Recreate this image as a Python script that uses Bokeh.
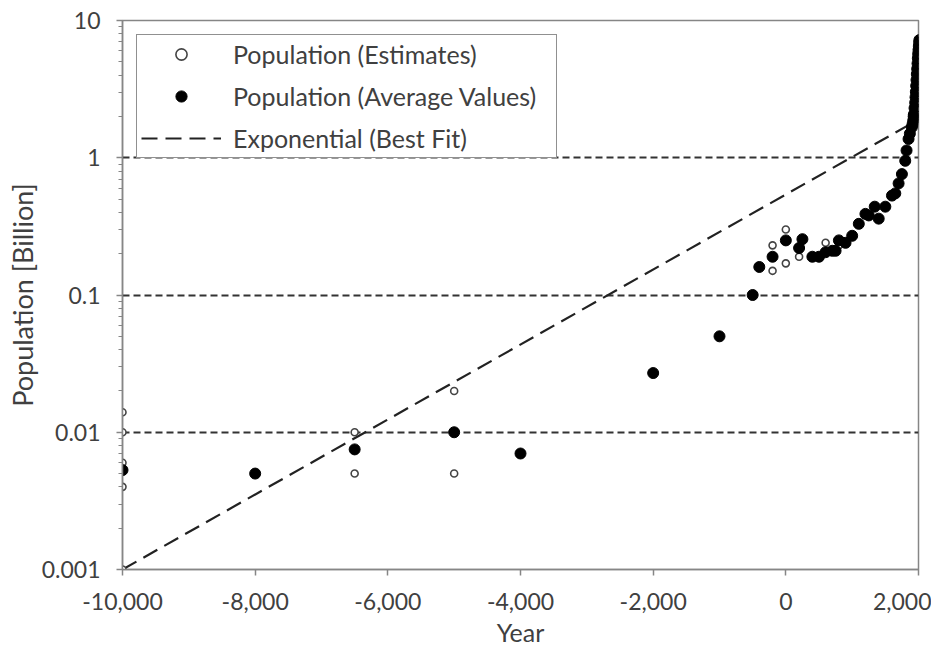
from bokeh.plotting import figure
from bokeh.models import (FixedTicker, NumeralTickFormatter, CustomJSTickFormatter,
                          Legend, LegendItem)
from bokeh.embed import file_html
from bokeh.resources import INLINE

# ---- data -------------------------------------------------------------
est_year = [-10000, -10000, -10000, -10000, -10000, -8000, -6500, -6500,
            -5000, -5000, -200, -200, 0, 0, 200, 600, 800]
est_pop = [0.001, 0.004, 0.006, 0.01, 0.014, 0.005, 0.005, 0.01,
           0.005, 0.02, 0.15, 0.23, 0.17, 0.30, 0.19, 0.24, 0.23]

avg_year = [-10000, -8000, -6500, -5000, -4000, -2000, -1000, -500, -400,
            -200, 0, 200, 250, 400, 500, 600, 700, 750, 800, 900, 1000,
            1100, 1200, 1250, 1340, 1400, 1500, 1600, 1650, 1700, 1750,
            1800, 1820, 1850, 1870, 1900, 1910, 1920, 1927, 1930, 1940,
            1950, 1955, 1960, 1965, 1970, 1975, 1980, 1985, 1990, 1995,
            2000, 2005, 2010, 2013]
avg_pop = [0.0053, 0.005, 0.0075, 0.01, 0.007, 0.027, 0.05, 0.1, 0.16,
           0.19, 0.25, 0.22, 0.255, 0.19, 0.19, 0.205, 0.21, 0.21, 0.25, 0.24, 0.27,
           0.33, 0.39, 0.38, 0.44, 0.36, 0.44, 0.53, 0.55, 0.65, 0.76,
           0.95, 1.13, 1.37, 1.5, 1.67, 1.75, 1.86, 2.0, 2.07, 2.3,
           2.52, 2.76, 3.02, 3.34, 3.69, 4.07, 4.44, 4.86, 5.31, 5.72,
           6.12, 6.51, 6.92, 7.2]

fit_year = [-10000, 2000]
fit_pop = [0.001, 1.9]

y_ticks = [0.001, 0.01, 0.1, 1, 10]
x_ticks = [-10000, -8000, -6000, -4000, -2000, 0, 2000]
grid_ticks = [0.01, 0.1, 1]

# ---- figure -----------------------------------------------------------
FONT = "Lato"
TXT = "#404040"
AX = "#868686"

p = figure(width=931, height=650, x_range=(-10000, 2000), y_range=(0.001, 10),
           y_axis_type="log", output_backend="svg", toolbar_location=None,
           min_border_left=122, min_border_right=13, min_border_top=20,
           min_border_bottom=81)
p.background_fill_color = "white"
p.border_fill_color = "white"
p.outline_line_color = AX
p.outline_line_width = 1.5

r_fit = p.line(fit_year, fit_pop, line_color="#222222", line_width=2.2,
               line_dash="16 8")
r_est = p.scatter(est_year, est_pop, marker="circle", size=7,
                  fill_color="white", line_color="#444444", line_width=1.6)
r_avg = p.scatter(avg_year, avg_pop, marker="circle", size=11,
                  fill_color="black", line_color="black")

# axes
p.xaxis.ticker = FixedTicker(ticks=x_ticks)
p.xaxis.formatter = NumeralTickFormatter(format="0,0")
minor = [m * 10.0 ** e for e in range(-3, 1) for m in range(2, 10)]
p.yaxis.ticker = FixedTicker(ticks=y_ticks, minor_ticks=minor)
p.yaxis.formatter = CustomJSTickFormatter(code="return tick.toString();")

for ax in (p.xaxis[0], p.yaxis[0]):
    ax.axis_line_color = AX
    ax.axis_line_width = 1.5
    ax.major_tick_line_color = AX
    ax.major_tick_line_width = 1.5
    ax.major_tick_out = 6
    ax.major_tick_in = 0
    ax.minor_tick_line_color = AX
    ax.minor_tick_line_width = 1.2
    ax.major_label_text_font = FONT
    ax.major_label_text_font_size = "23px"
    ax.major_label_text_color = TXT
    ax.axis_label_text_font = FONT
    ax.axis_label_text_font_style = "normal"
    ax.axis_label_text_color = TXT

p.xaxis.axis_label_text_font_size = "25px"
p.yaxis.axis_label_text_font_size = "27px"
p.xaxis.minor_tick_out = 0
p.xaxis.minor_tick_in = 0
p.yaxis.minor_tick_out = 4
p.yaxis.minor_tick_in = 0
p.xaxis.major_label_standoff = 17
p.yaxis.major_label_standoff = 16
p.xaxis.axis_label = "Year"
p.yaxis.axis_label = "Population [Billion]"
p.xaxis.axis_label_standoff = 4
p.yaxis.axis_label_standoff = 0

# grid
p.xgrid.visible = False
p.ygrid.ticker = FixedTicker(ticks=grid_ticks)
p.ygrid.grid_line_color = "#333333"
p.ygrid.grid_line_width = 2
p.ygrid.grid_line_dash = "7 4"

# legend
legend = Legend(items=[
    LegendItem(label="Population (Estimates)", renderers=[r_est]),
    LegendItem(label="Population (Average Values)", renderers=[r_avg]),
    LegendItem(label="Exponential (Best Fit)", renderers=[r_fit]),
], location="top_left")
legend.margin = 14
legend.padding = 4
legend.spacing = 12
legend.glyph_width = 80
legend.glyph_height = 28
legend.label_height = 28
legend.label_width = 319
legend.label_standoff = 12
legend.label_text_font = FONT
legend.label_text_font_size = "25px"
legend.label_text_color = TXT
legend.border_line_color = "#222222"
legend.border_line_width = 1.6
legend.background_fill_color = "white"
legend.background_fill_alpha = 1.0
p.add_layout(legend)

open("out.html", "w").write(file_html(p, INLINE))
